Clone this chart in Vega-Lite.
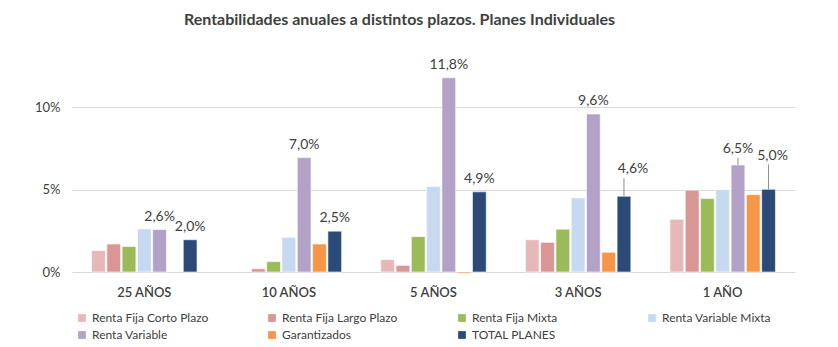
{
  "$schema": "https://vega.github.io/schema/vega-lite/v6.json",
  "autosize": {"type": "none"},
  "padding": {"left": 72, "top": 58, "right": 43, "bottom": 75},
  "width": 723,
  "height": 214,
  "background": "white",
  "title": {
    "text": "Rentabilidades anuales a distintos plazos. Planes Individuales",
    "anchor": "middle",
    "dx": -34,
    "offset": 30,
    "font": "Lato",
    "fontSize": 16,
    "fontWeight": "bold",
    "color": "#404040"
  },
  "config": {
    "locale": {"number": {"decimal": ",", "thousands": ".", "grouping": [3], "currency": ["", " €"]}},
    "view": {"stroke": null},
    "font": "Lato"
  },
  "data": {
    "values": [
      {"plazo": "25 AÑOS", "serie": "Renta Fija Corto Plazo", "valor": 0.013},
      {"plazo": "25 AÑOS", "serie": "Renta Fija Largo Plazo", "valor": 0.017},
      {"plazo": "25 AÑOS", "serie": "Renta Fija Mixta", "valor": 0.0155},
      {"plazo": "25 AÑOS", "serie": "Renta Variable Mixta", "valor": 0.0262},
      {"plazo": "25 AÑOS", "serie": "Renta Variable", "valor": 0.0258},
      {"plazo": "25 AÑOS", "serie": "TOTAL PLANES", "valor": 0.0196},
      {"plazo": "10 AÑOS", "serie": "Renta Fija Largo Plazo", "valor": 0.002},
      {"plazo": "10 AÑOS", "serie": "Renta Fija Mixta", "valor": 0.0063},
      {"plazo": "10 AÑOS", "serie": "Renta Variable Mixta", "valor": 0.021},
      {"plazo": "10 AÑOS", "serie": "Renta Variable", "valor": 0.0695},
      {"plazo": "10 AÑOS", "serie": "Garantizados", "valor": 0.017},
      {"plazo": "10 AÑOS", "serie": "TOTAL PLANES", "valor": 0.0248},
      {"plazo": "5 AÑOS", "serie": "Renta Fija Corto Plazo", "valor": 0.0075},
      {"plazo": "5 AÑOS", "serie": "Renta Fija Largo Plazo", "valor": 0.004},
      {"plazo": "5 AÑOS", "serie": "Renta Fija Mixta", "valor": 0.0215},
      {"plazo": "5 AÑOS", "serie": "Renta Variable Mixta", "valor": 0.052},
      {"plazo": "5 AÑOS", "serie": "Renta Variable", "valor": 0.118},
      {"plazo": "5 AÑOS", "serie": "Garantizados", "valor": -0.0008},
      {"plazo": "5 AÑOS", "serie": "TOTAL PLANES", "valor": 0.0487},
      {"plazo": "3 AÑOS", "serie": "Renta Fija Corto Plazo", "valor": 0.0196},
      {"plazo": "3 AÑOS", "serie": "Renta Fija Largo Plazo", "valor": 0.018},
      {"plazo": "3 AÑOS", "serie": "Renta Fija Mixta", "valor": 0.026},
      {"plazo": "3 AÑOS", "serie": "Renta Variable Mixta", "valor": 0.045},
      {"plazo": "3 AÑOS", "serie": "Renta Variable", "valor": 0.096},
      {"plazo": "3 AÑOS", "serie": "Garantizados", "valor": 0.012},
      {"plazo": "3 AÑOS", "serie": "TOTAL PLANES", "valor": 0.046},
      {"plazo": "1 AÑO", "serie": "Renta Fija Corto Plazo", "valor": 0.032},
      {"plazo": "1 AÑO", "serie": "Renta Fija Largo Plazo", "valor": 0.0497},
      {"plazo": "1 AÑO", "serie": "Renta Fija Mixta", "valor": 0.0446},
      {"plazo": "1 AÑO", "serie": "Renta Variable Mixta", "valor": 0.05},
      {"plazo": "1 AÑO", "serie": "Renta Variable", "valor": 0.065},
      {"plazo": "1 AÑO", "serie": "Garantizados", "valor": 0.047},
      {"plazo": "1 AÑO", "serie": "TOTAL PLANES", "valor": 0.0502}
    ]
  },
  "encoding": {
    "x": {
      "field": "plazo",
      "type": "nominal",
      "sort": ["25 AÑOS", "10 AÑOS", "5 AÑOS", "3 AÑOS", "1 AÑO"],
      "scale": {"paddingInner": 0.26, "paddingOuter": 0.13},
      "axis": {
        "title": null,
        "labelAngle": 0,
        "domain": false,
        "ticks": false,
        "labelPadding": 14,
        "labelFontSize": 13,
        "labelFontWeight": 600,
        "labelColor": "#404040",
        "labelFont": "Lato"
      }
    },
    "xOffset": {
      "field": "serie",
      "type": "nominal",
      "sort": ["Renta Fija Corto Plazo", "Renta Fija Largo Plazo", "Renta Fija Mixta", "Renta Variable Mixta", "Renta Variable", "Garantizados", "TOTAL PLANES"],
      "scale": {"paddingInner": 0.1, "paddingOuter": 0.05}
    },
    "y": {
      "field": "valor",
      "type": "quantitative",
      "scale": {"domain": [0, 0.13], "nice": false, "zero": true},
      "axis": {
        "title": null,
        "values": [0, 0.05, 0.1],
        "format": ".0%",
        "domain": false,
        "ticks": false,
        "labelPadding": 12,
        "labelFontSize": 13,
        "labelColor": "#404040",
        "labelFont": "Lato",
        "gridColor": "#D9D9D9",
        "gridWidth": 1
      }
    }
  },
  "layer": [
    {
      "mark": {"type": "bar", "stroke": "white", "strokeWidth": 0.6},
      "encoding": {
        "color": {
          "field": "serie",
          "type": "nominal",
          "scale": {
            "domain": ["Renta Fija Corto Plazo", "Renta Fija Largo Plazo", "Renta Fija Mixta", "Renta Variable Mixta", "Renta Variable", "Garantizados", "TOTAL PLANES"],
            "range": ["#E6B9B8", "#D99694", "#9BBB59", "#C6D9F1", "#B3A2C7", "#F79646", "#2B4A78"]
          },
          "legend": {
            "title": null,
            "orient": "none",
            "legendX": 4,
            "legendY": 254,
            "direction": "horizontal",
            "columns": 4,
            "gridAlign": "all",
            "columnPadding": 57,
            "rowPadding": 5,
            "symbolType": "square",
            "symbolSize": 60,
            "symbolStrokeWidth": 0,
            "labelFontSize": 12,
            "labelFont": "Lato",
            "labelColor": "#404040",
            "labelLimit": 200
          }
        }
      }
    },
    {
      "transform": [{"filter": "(datum.serie === 'Renta Variable' || datum.serie === 'TOTAL PLANES') && !(datum.plazo === '1 AÑO') && !(datum.plazo === '3 AÑOS' && datum.serie === 'TOTAL PLANES')"}],
      "mark": {"type": "text", "baseline": "bottom", "dy": -6, "fontSize": 14, "color": "#404040", "font": "Lato"},
      "encoding": {
        "text": {"field": "valor", "type": "quantitative", "format": ".1%"}
      }
    },
    {
      "transform": [{"filter": "datum.plazo === '1 AÑO' && datum.serie === 'Renta Variable'"}],
      "mark": {"type": "text", "baseline": "bottom", "dy": -9, "fontSize": 14, "color": "#404040", "font": "Lato"},
      "encoding": {
        "text": {"field": "valor", "type": "quantitative", "format": ".1%"}
      }
    },
    {
      "transform": [{"filter": "datum.plazo === '3 AÑOS' && datum.serie === 'TOTAL PLANES'"}],
      "mark": {"type": "text", "baseline": "bottom", "dy": -20, "dx": 9, "fontSize": 14, "color": "#404040", "font": "Lato"},
      "encoding": {
        "text": {"field": "valor", "type": "quantitative", "format": ".1%"}
      }
    },
    {
      "transform": [{"filter": "datum.plazo === '1 AÑO' && datum.serie === 'TOTAL PLANES'"}],
      "mark": {"type": "text", "baseline": "bottom", "dy": -26, "dx": 4, "fontSize": 14, "color": "#404040", "font": "Lato"},
      "encoding": {
        "text": {"field": "valor", "type": "quantitative", "format": ".1%"}
      }
    },
    {
      "transform": [{"filter": "datum.plazo === '3 AÑOS' && datum.serie === 'TOTAL PLANES'"}],
      "mark": {"type": "rule", "color": "#8C8C8C", "strokeWidth": 1, "y2Offset": -18},
      "encoding": {
        "y2": {"field": "valor"}
      }
    },
    {
      "transform": [{"filter": "datum.plazo === '1 AÑO' && datum.serie === 'TOTAL PLANES'"}],
      "mark": {"type": "rule", "color": "#8C8C8C", "strokeWidth": 1, "y2Offset": -25},
      "encoding": {
        "y2": {"field": "valor"}
      }
    },
    {
      "transform": [{"filter": "datum.plazo === '1 AÑO' && datum.serie === 'Renta Variable'"}],
      "mark": {"type": "rule", "color": "#8C8C8C", "strokeWidth": 1, "y2Offset": -7},
      "encoding": {
        "y2": {"field": "valor"}
      }
    }
  ]
}
